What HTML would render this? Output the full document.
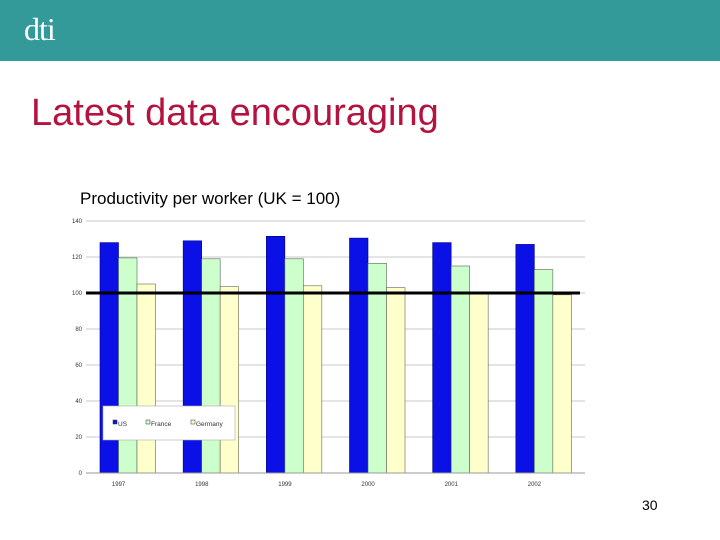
<!DOCTYPE html>
<html><head><meta charset="utf-8"><style>
body{margin:0;width:720px;height:540px;background:#fff;font-family:"Liberation Sans",sans-serif;position:relative;overflow:hidden}
#hdr{position:absolute;left:0;top:0;width:720px;height:61px;background:#339a99}
#logo{position:absolute;left:24px;top:11px;color:#fff;font-family:"Liberation Serif",serif;font-size:32px;letter-spacing:-1px}
#title{position:absolute;left:31px;top:92px;color:#b5133f;font-size:38px;white-space:nowrap}
#pg{position:absolute;left:642px;top:497px;font-size:14px;color:#000}
svg{position:absolute;left:0;top:0}
</style></head><body>
<div id="hdr"><div id="logo">dti</div></div>
<div id="title">Latest data encouraging</div>
<div id="pg">30</div>
<svg id="chart" width="720" height="540"></svg>
<script>
const categories=["1997","1998","1999","2000","2001","2002"];
const usValues=[128,129,131.5,130.5,128,127];
const franceValues=[119.5,119,119,116.5,115,113];
const germanyValues=[105,103.5,104,103,100,99];
const yTicks=[0,20,40,60,80,100,120,140];
const ns="http://www.w3.org/2000/svg";
const svg=document.getElementById('chart');
const x0=86,x1=585,yb=473,yt=221,ymax=140;
const y=v=>yb-(v/ymax)*(yb-yt);
const cw=(x1-x0)/categories.length;
function mk(t,a,p){const e=document.createElementNS(ns,t);for(const k in a)e.setAttribute(k,a[k]);(p||svg).appendChild(e);return e;}
let tt=mk('text',{x:80,y:204,'font-size':17,'font-family':'Liberation Sans, sans-serif'});tt.textContent='Productivity per worker (UK = 100)';


yTicks.forEach(v=>{
 const l=mk('line',{x1:x0,x2:x1,y1:y(v),y2:y(v),stroke:'#c8c8c8','stroke-width':1});
 
 
 const t=mk('text',{x:82,y:y(v)+2,'font-size':6,'text-anchor':'end',fill:'#333'});t.textContent=v;
 
 
});
const series=[[usValues,'#0a10e6','#000080','us'],[franceValues,'#ccffcc','#556655','france'],[germanyValues,'#ffffcc','#666655','germany']];
categories.forEach((c,i)=>{
 const gx=x0+i*cw+14;
 series.forEach((s,j)=>{
  const r=mk('rect',{x:gx+j*18.5,y:y(s[0][i]),width:18.5,height:yb-y(s[0][i]),fill:s[1],stroke:s[2],'stroke-width':0.6});
  
  
 });
 const t=mk('text',{x:x0+i*cw+cw/2-9,y:486,'font-size':6,'text-anchor':'middle',fill:'#333'});t.textContent=c;
 
 
});
mk('line',{x1:x0,x2:x1,y1:yb,y2:yb,stroke:'#999'});
const ref=mk('line',{x1:x0,x2:580,y1:y(100),y2:y(100),stroke:'#000','stroke-width':3});


const lg=mk('g',{});


mk('rect',{x:103,y:406,width:132,height:34,fill:'#fff',stroke:'#aaa','stroke-width':0.6},lg);
[['US',113,'#0a10e6'],['France',146,'#ccffcc'],['Germany',191,'#ffffcc']].forEach(e=>{
 mk('rect',{x:e[1],y:420,width:4,height:4,fill:e[2],stroke:'#333','stroke-width':0.5},lg);
 const t=mk('text',{x:e[1]+5,y:426,'font-size':6.5,fill:'#333'},lg);t.textContent=e[0];
 
 
});
</script>
</body></html>
